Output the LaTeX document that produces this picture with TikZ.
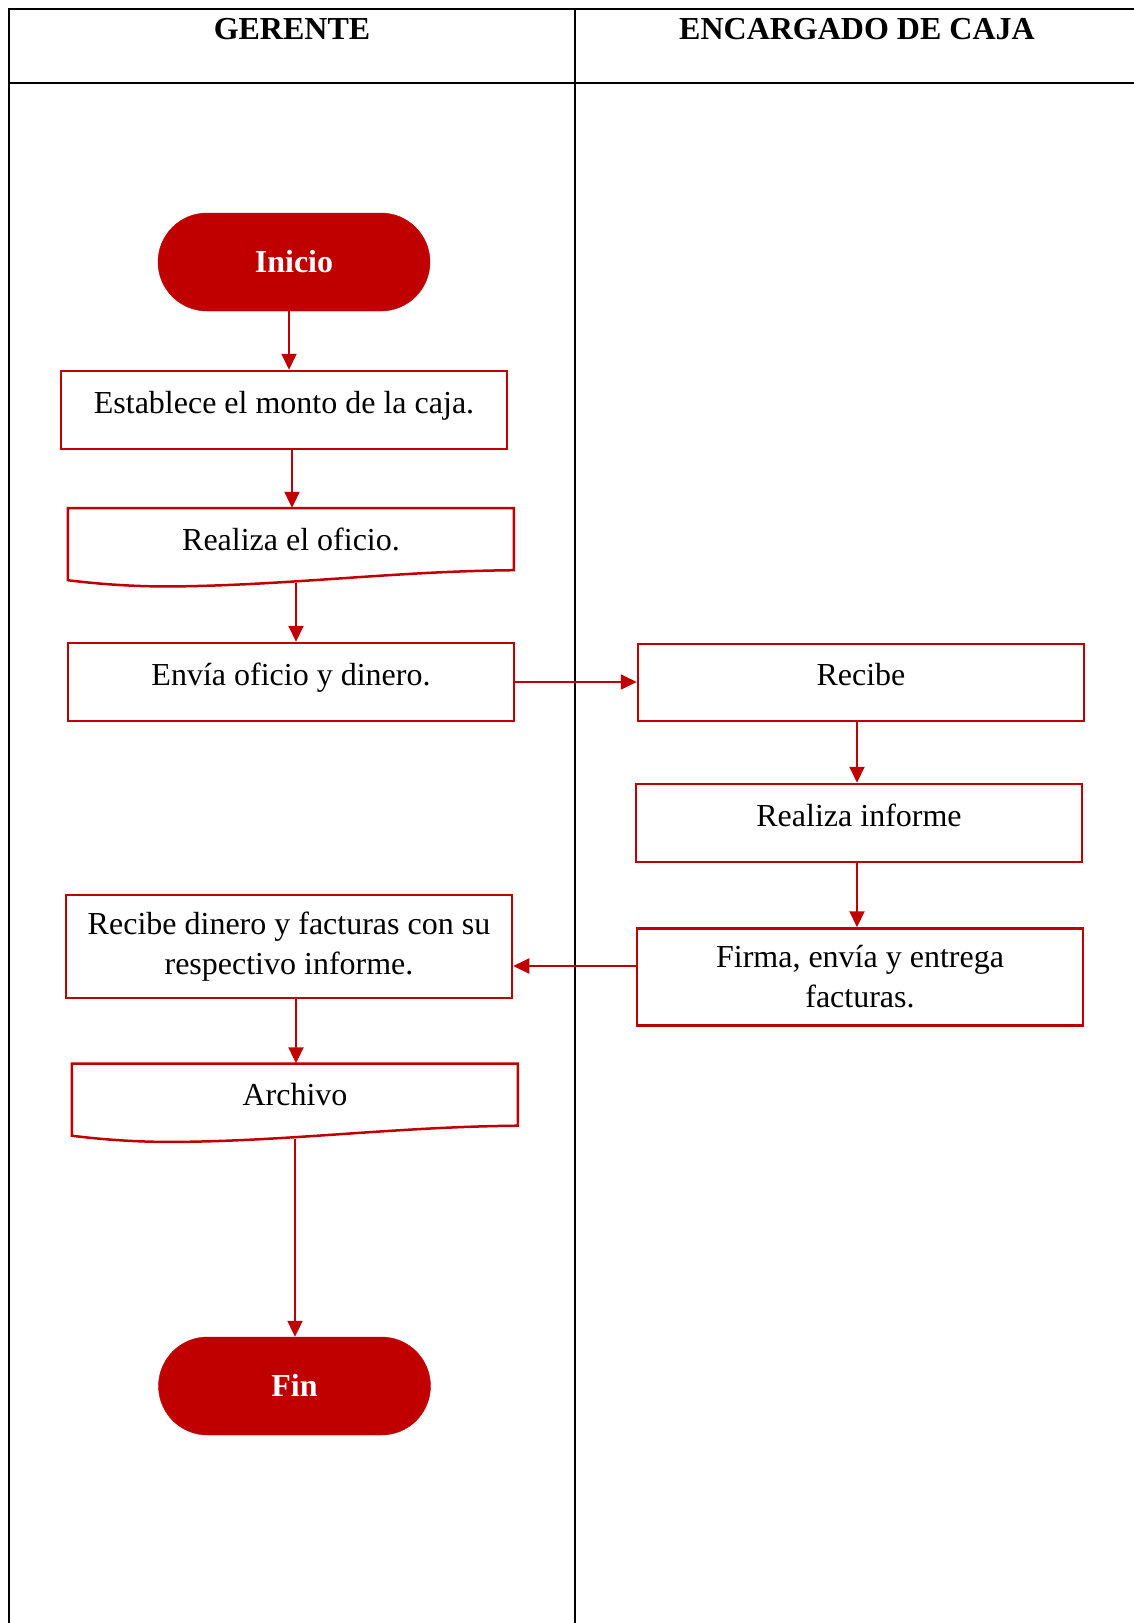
\documentclass[tikz,border=0pt]{standalone}
\usepackage{fontspec}
\setmainfont{Liberation Serif}
\usetikzlibrary{arrows.meta,calc}
\definecolor{fred}{HTML}{C00000}
\newcommand\docoutline[1]{%
  \begin{scope}[shift={(#1.south west)}]
    \draw[fred,line width=2.5pt,line join=miter] (0,0) -- (0,-72) -- (446,-72) -- (446,-10)
      .. controls (330,-9) and (230,4) .. (120,6)
      .. controls (80,7) and (40,5) .. (0,0) -- cycle;
  \end{scope}}
\begin{document}
\begin{tikzpicture}[x=1pt,y=-1pt,
  every node/.style={font=\fontsize{32}{40}\selectfont},
  procbox/.style={draw=fred,line width=2.5pt,fill=white,inner sep=0pt,
    minimum width=446pt,text height=24pt,text depth=18pt},
  twoline/.style={draw=fred,line width=2.5pt,fill=white,inner sep=0pt,
    minimum width=446pt,align=center},
  docbox/.style={inner sep=0pt,minimum width=446pt,minimum height=72pt,
    text height=30pt,text depth=18pt},
  terminal/.style={fill=fred,draw=fred,rounded corners=49pt,minimum width=272pt,
    minimum height=98pt,inner sep=0pt,text=white,text height=24pt,text depth=4pt,
    font=\fontsize{32}{39}\selectfont\bfseries},
  header/.style={anchor=base,font=\fontsize{32}{39}\selectfont\bfseries},
  arr/.style={draw=fred,line width=2pt,-{Triangle[width=15pt,length=16pt]}},
  grid/.style={draw=black,line width=2pt}]
\useasboundingbox (0,0) rectangle (1134,1623);

% swimlane table
\draw[grid] (1134,8.5) -- (9,8.5) -- (9,1623);
\draw[grid] (9,82.5) -- (1134,82.5);
\draw[grid] (575,8.5) -- (575,1623);
\node[header] (hgerente) at (292,39) {GERENTE};
\node[header] (hcaja) at (857,39) {ENCARGADO DE CAJA};

% nodes
\node[terminal] (inicio) at (294,262) {Inicio};
\node[procbox,minimum height=78pt] (establece) at (284,410) {Establece el monto de la caja.};
\node[docbox] (oficio) at (291,544) {};
\docoutline{oficio}
\node[docbox] (oficiotxt) at (291,544) {Realiza el oficio.};
\node[procbox,minimum height=78pt] (envia) at (291,682) {Envía oficio y dinero.};
\node[procbox,minimum height=77pt] (recibe) at (861,682.5) {Recibe};
\node[procbox,minimum height=78pt] (informe) at (859,823) {Realiza informe};
\node[twoline,minimum height=97pt] (firma) at (860,977) {Firma, envía y entrega\\facturas.};
\node[twoline,minimum height=103pt] (dinero) at (289,946.5) {Recibe dinero y facturas con su\\respectivo informe.};
\node[docbox] (archivo) at (295,1099.5) {};
\docoutline{archivo}
\node[docbox] (archivotxt) at (295,1099.5) {Archivo};
\node[terminal] (fin) at (294.5,1386) {Fin};

% connectors
\draw[arr] ([xshift=-5pt]inicio.south) -- ([xshift=5pt]establece.north);
\draw[arr] ([xshift=8pt]establece.south) -- ([xshift=1pt]oficio.north);
\draw[arr] ([xshift=5pt,yshift=-3pt]oficio.south) -- ([xshift=5pt]envia.north);
\draw[arr] (envia.east) -- (envia.east -| recibe.west);
\draw[arr] ([xshift=-4pt]recibe.south) -- ([xshift=-2pt]informe.north);
\draw[arr] ([xshift=-2pt]informe.south) -- ([xshift=-3pt]firma.north);
\draw[arr] ([yshift=11pt]firma.west) -- ([yshift=11pt]firma.west -| dinero.east);
\draw[arr] ([xshift=7pt]dinero.south) -- ([xshift=1pt]archivo.north);
\draw[arr] ([yshift=-3pt]archivo.south) -- (archivo.south |- fin.north);
\end{tikzpicture}
\end{document}
